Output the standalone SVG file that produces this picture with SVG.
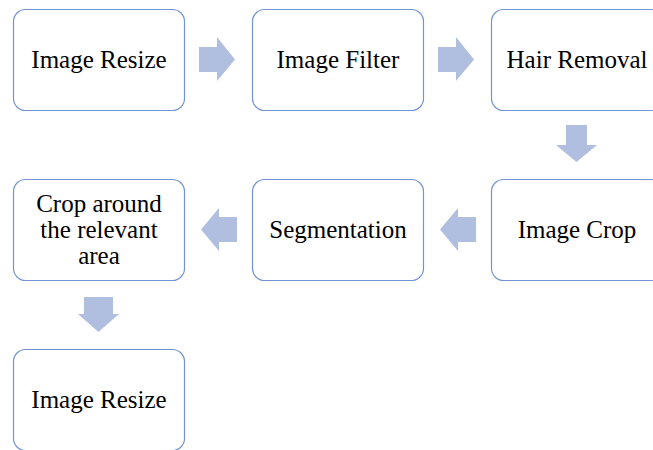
<svg xmlns="http://www.w3.org/2000/svg" width="653" height="450" viewBox="0 0 653 450">
<style>
.box{fill:#fff;stroke:#7393D2;stroke-width:1.2}
.lbl{font-family:"Liberation Serif","Times New Roman",serif;font-size:25px;fill:#000;text-anchor:middle}
.arr{fill:#B0BEE0}
</style>
<rect width="653" height="450" fill="#fff"/>
<g id="n1"><rect class="box" x="13.5" y="9.5" width="171" height="101" rx="12"/><text class="lbl" x="99" y="68">Image Resize</text></g>
<g id="n2"><rect class="box" x="252.5" y="9.5" width="171" height="101" rx="12"/><text class="lbl" x="338" y="68">Image Filter</text></g>
<g id="n3"><rect class="box" x="491.5" y="9.5" width="171" height="101" rx="12"/><text class="lbl" x="577" y="68">Hair Removal</text></g>
<g id="n4"><rect class="box" x="491.5" y="179.5" width="171" height="101" rx="12"/><text class="lbl" x="577" y="238">Image Crop</text></g>
<g id="n5"><rect class="box" x="252.5" y="179.5" width="171" height="101" rx="12"/><text class="lbl" x="338" y="238">Segmentation</text></g>
<g id="n6"><rect class="box" x="13.5" y="179.5" width="171" height="101" rx="12"/><text class="lbl" x="99" y="212">Crop around</text><text class="lbl" x="99" y="238">the relevant</text><text class="lbl" x="99" y="264">area</text></g>
<g id="n7"><rect class="box" x="13.5" y="349.5" width="171" height="101" rx="12"/><text class="lbl" x="99" y="408">Image Resize</text></g>
<g id="connectors">
<polygon class="arr" points="199,47 217,47 217,37 235,59.5 217,81 217,72 199,72"/>
<polygon class="arr" points="438,47 456,47 456,37 474,59.5 456,81 456,72 438,72"/>
<polygon class="arr" points="566,125 587,125 587,145 597,145 576.5,162 556,145 566,145"/>
<polygon class="arr" points="476,217 458,217 458,208 440,229.5 458,251 458,242 476,242"/>
<polygon class="arr" points="237,217 219,217 219,208 201,229.5 219,251 219,242 237,242"/>
<polygon class="arr" points="84,297 113,297 113,314 119,314 98.5,332 78,314 84,314"/>
</g>
</svg>
